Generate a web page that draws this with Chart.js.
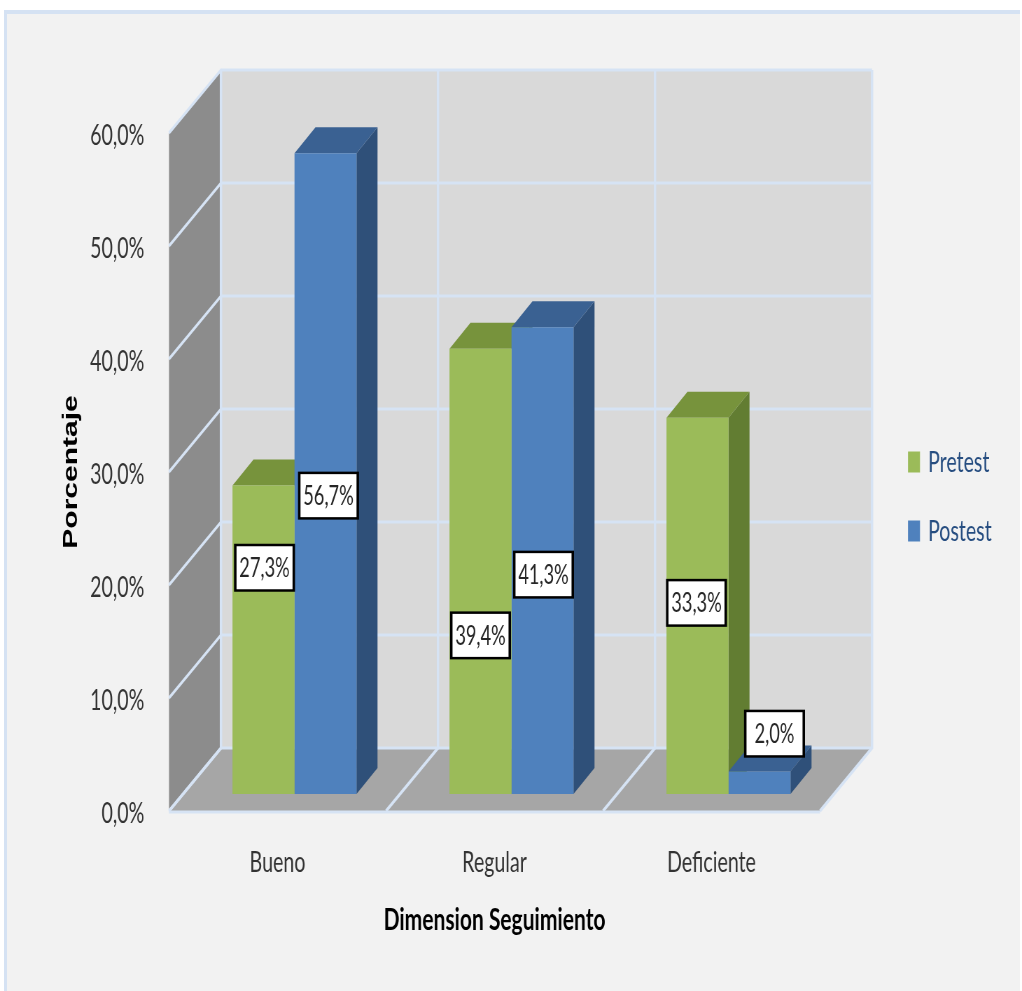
<!DOCTYPE html>
<html lang="es">
<head>
<meta charset="utf-8">
<title>Dimension Seguimiento</title>
<script src="https://cdn.jsdelivr.net/npm/chart.js@4/dist/chart.umd.min.js"></script>
<style>
  html, body { margin: 0; padding: 0; width: 1022px; height: 991px; overflow: hidden; background: #ffffff; }
  #frame {
    position: absolute; left: 4px; top: 10px; width: 1016px; height: 990px;
    background: #F2F2F2; border-top: 4px solid #D5E2F3; border-left: 3px solid #D5E2F3;
    box-sizing: border-box;
  }
  /* the drawing is laid out wide and narrowed horizontally, giving the condensed lettering */
  #wrap {
    position: absolute; left: 0; top: 0; width: 1460px; height: 991px;
    transform: scaleX(0.7); transform-origin: 0 0;
  }
</style>
</head>
<body>
<div id="frame"></div>
<div id="wrap"><canvas id="c" width="1460" height="991"></canvas></div>
<script>
// ---- data ----
const categories = ['Bueno', 'Regular', 'Deficiente'];
const seriesNames = ['Pretest', 'Postest'];
const pretest = [27.3, 39.4, 33.3];
const postest = [56.7, 41.3, 2.0];
const tickLabels = ['0,0%', '10,0%', '20,0%', '30,0%', '40,0%', '50,0%', '60,0%'];

// ---- look ----
const SX = 0.7;                       // horizontal squeeze applied by #wrap
const px = v => v / SX;               // on-screen horizontal px -> canvas px
const FRONT = ['#9BBB59', '#4F81BD'];
const TOP   = ['#77933C', '#3A6192'];
const SIDE  = ['#627D32', '#2F5079'];
const DEPTH = { x: px(52), y: -63 };      // front floor edge -> back wall
const BAR_SHIFT = { x: px(17), y: -17 };  // bar fronts stand a little behind the front edge
const BAR_DEPTH = { x: px(21), y: -26 };
const GRID = '#D6E3F4';
// value boxes: nudge from the middle of each bar front (screen px)
const labelNudge = [
  [[1, -72], [0, 64], [-1, -3]],
  [[3, 22], [1, 14], [15, -49]]
];

const fmt = v => v.toFixed(1).replace('.', ',') + '%';

function poly(ctx, pts, fill) {
  ctx.beginPath();
  ctx.moveTo(pts[0][0], pts[0][1]);
  for (let i = 1; i < pts.length; i++) ctx.lineTo(pts[i][0], pts[i][1]);
  ctx.closePath();
  ctx.fillStyle = fill;
  ctx.fill();
}
function line(ctx, pts, w) {
  ctx.beginPath();
  ctx.moveTo(pts[0][0], pts[0][1]);
  for (let i = 1; i < pts.length; i++) ctx.lineTo(pts[i][0], pts[i][1]);
  ctx.strokeStyle = GRID;
  ctx.lineWidth = w;
  ctx.stroke();
}

function barBox(bar) {
  const p = bar.getProps(['x', 'y', 'width', 'base'], true);
  return {
    l: p.x - p.width / 2 + BAR_SHIFT.x,
    r: p.x + p.width / 2 + BAR_SHIFT.x,
    t: p.y + BAR_SHIFT.y,
    b: p.base + BAR_SHIFT.y
  };
}

const box3d = {
  id: 'box3d',
  beforeDatasetsDraw(chart) {
    const { ctx, chartArea: a, scales: { x, y } } = chart;
    const dx = DEPTH.x, dy = DEPTH.y;
    const y0 = y.getPixelForValue(y.min);
    const yT = y.getPixelForValue(y.max);
    const L = a.left, R = a.right;

    ctx.save();
    // walls and floor
    poly(ctx, [[L + dx, yT + dy], [R + dx, yT + dy], [R + dx, y0 + dy], [L + dx, y0 + dy]], '#D9D9D9');
    poly(ctx, [[L, yT], [L + dx, yT + dy], [L + dx, y0 + dy], [L, y0]], '#8C8C8C');
    poly(ctx, [[L, y0], [L + dx, y0 + dy], [R + dx, y0 + dy], [R, y0]], '#A6A6A6');

    // value grid on side and back walls
    y.ticks.forEach(t => {
      const yy = y.getPixelForValue(t.value);
      line(ctx, [[L, yy], [L + dx, yy + dy], [R + dx, yy + dy]], 3);
    });
    // category dividers across floor and up the back wall
    for (let i = 0; i <= categories.length; i++) {
      const xx = x.getPixelForValue(i - 0.5);
      line(ctx, [[xx, y0], [xx + dx, y0 + dy], [xx + dx, yT + dy]], 3.5);
    }
    line(ctx, [[L, y0 + 1], [R, y0 + 1]], 3);

    // tops and right-hand sides of the columns
    chart.data.datasets.forEach((ds, di) => {
      chart.getDatasetMeta(di).data.forEach(bar => {
        const { l, r, t, b } = barBox(bar);
        const bx = BAR_DEPTH.x, by = BAR_DEPTH.y;
        poly(ctx, [[r, t], [r + bx, t + by], [r + bx, b + by], [r, b]], SIDE[di]);
        poly(ctx, [[l, t], [l + bx, t + by], [r + bx, t + by], [r, t]], TOP[di]);
      });
    });
    ctx.restore();

    // column fronts are drawn by the bar controller, set back from the front edge
    ctx.save();
    ctx.translate(BAR_SHIFT.x, BAR_SHIFT.y);
  },
  afterDatasetsDraw(chart) {
    const ctx = chart.ctx;
    ctx.restore();

    // value boxes
    ctx.save();
    const bw = px(61), bh = 48;
    chart.data.datasets.forEach((ds, di) => {
      chart.getDatasetMeta(di).data.forEach((bar, i) => {
        const { l, r, t, b } = barBox(bar);
        const cx = (l + r) / 2 + px(labelNudge[di][i][0]);
        const cy = (t + b) / 2 + labelNudge[di][i][1];
        ctx.fillStyle = '#000000';
        ctx.fillRect(cx - bw / 2, cy - bh / 2, bw, bh);
        ctx.fillStyle = '#FFFFFF';
        ctx.fillRect(cx - bw / 2 + px(2.5), cy - bh / 2 + 2.5, bw - px(5), bh - 5);
        ctx.fillStyle = '#262626';
        ctx.font = '26px Lato';
        ctx.textAlign = 'center';
        ctx.textBaseline = 'middle';
        ctx.fillText(fmt(ds.data[i]), cx, cy + 1);
      });
    });

    // legend
    const lx = px(908), ly = [462, 531];
    chart.data.datasets.forEach((ds, di) => {
      ctx.fillStyle = ds.backgroundColor;
      ctx.fillRect(lx, ly[di] - 10.5, px(12), 21);
      ctx.fillStyle = '#264D80';
      ctx.font = '28px Lato';
      ctx.textAlign = 'left';
      ctx.textBaseline = 'middle';
      ctx.fillText(ds.label, lx + px(20), ly[di] + 1);
    });
    ctx.restore();
  }
};

new Chart(document.getElementById('c'), {
  type: 'bar',
  data: {
    labels: categories,
    datasets: [
      { label: seriesNames[0], data: pretest, backgroundColor: FRONT[0], clip: false },
      { label: seriesNames[1], data: postest, backgroundColor: FRONT[1], clip: false }
    ]
  },
  options: {
    responsive: false,
    animation: false,
    events: [],
    layout: { padding: { left: 0, right: 1460 - px(820), top: 133, bottom: 30 } },
    datasets: { bar: { categoryPercentage: 0.5714, barPercentage: 1, borderWidth: 0 } },
    plugins: { legend: { display: false }, tooltip: { enabled: false } },
    scales: {
      x: {
        grid: { display: false },
        border: { display: false },
        ticks: { padding: 27, color: '#333333', font: { family: 'Lato', size: 28 } },
        title: {
          display: true, text: 'Dimension Seguimiento', color: '#000000',
          font: { family: 'Lato', size: 30, weight: 'bold' },
          padding: { top: 0, bottom: 23 }
        },
        afterFit: s => { s.height = 150; }
      },
      y: {
        min: 0, max: 60,
        grid: { display: false },
        border: { display: false },
        ticks: {
          stepSize: 10, padding: px(169) - px(150), labelOffset: 3,
          color: '#333333', font: { family: 'Lato', size: 28 },
          callback: (v, i) => tickLabels[i]
        },
        title: {
          display: true, text: 'Porcentaje', color: '#000000',
          font: { family: 'Liberation Sans', size: 30, weight: 'bold' },
          padding: { top: px(71) - 18, bottom: 0 }
        },
        afterFit: s => { s.width = px(169); }
      }
    }
  },
  plugins: [box3d]
});
</script>
</body>
</html>
